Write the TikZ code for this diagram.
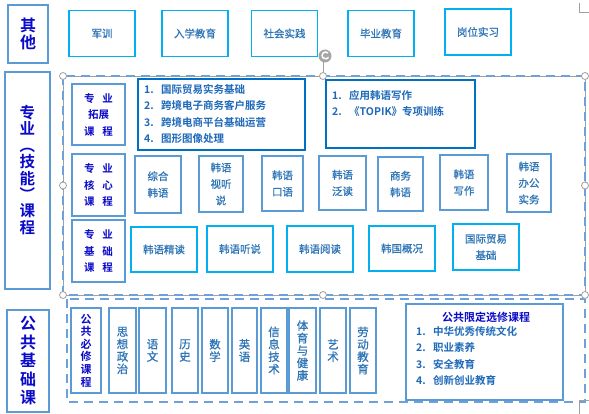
\documentclass[tikz,border=0pt]{standalone}
\usepackage{fontspec}
\setmainfont{Noto Sans CJK SC}[BoldFont={Noto Sans CJK SC Bold}]
\newfontfamily\itemfont{Noto Sans CJK SC}[FakeBold=0.9]
\usetikzlibrary{positioning}

\definecolor{navy}{RGB}{10,10,200}
\definecolor{itemblue}{RGB}{46,117,182}
\definecolor{listblue}{RGB}{30,105,185}
\definecolor{frameblue}{RGB}{91,155,213}
\definecolor{dashblue}{RGB}{110,160,218}
\definecolor{cyanline}{RGB}{0,176,240}
\definecolor{deepblue}{RGB}{0,112,192}
\definecolor{handlegray}{RGB}{160,160,160}

\newcommand{\numitem}[2]{\makebox[17pt][l]{#1.}#2}

\begin{document}
\begin{tikzpicture}[
  x=1pt, y=-1pt,
  catbox/.style={draw=frameblue, line width=2.6pt, inner sep=0pt, align=center,
    text=navy, font=\fontsize{16}{17}\selectfont\bfseries},
  subbox/.style={draw=frameblue, line width=1.6pt, inner sep=0pt, align=center,
    minimum width=53pt, minimum height=62pt,
    text=navy, font=\fontsize{10.5}{16.5}\selectfont\bfseries},
  cyanbox/.style={draw=cyanline, line width=1.6pt, inner sep=0pt, align=center,
    minimum width=66pt, minimum height=46pt,
    text=itemblue, font=\fontsize{10.5}{16.5}\itemfont},
  corebox/.style={draw=frameblue, line width=1.6pt, inner sep=0pt, align=center,
    minimum height=56pt,
    text=itemblue, font=\fontsize{10.5}{16.5}\itemfont},
  colbox/.style={draw=frameblue, line width=1.6pt, inner sep=0pt, align=center,
    minimum height=85pt,
    text=itemblue, font=\fontsize{11.5}{12.4}\itemfont},
  listbox/.style={draw=deepblue, line width=2pt, inner sep=0pt},
  listtext/.style={inner sep=0pt, align=left, text=listblue,
    font=\fontsize{10.5}{16.5}\selectfont\bfseries},
  dashframe/.style={draw=dashblue, line width=2.4pt, dash pattern=on 9pt off 6pt},
  handle/.style={circle, draw=handlegray, fill=white, line width=0.8pt,
    minimum size=7pt, inner sep=0pt}
]
\useasboundingbox (0,0) rectangle (589,414);

% Category boxes (left column)
\node[catbox, minimum width=40pt, minimum height=58pt] (other) at (28,34) {其\\他};
\node[catbox, minimum width=45pt, minimum height=217pt] (major) at (27.5,180.5) {};
\node[text=navy, font=\fontsize{15.5}{16.4}\selectfont\bfseries, align=center] (majortxt)
  at (27.5,170) {专\\业\\︵\\技\\能\\︶\\课\\程};
\node[catbox, minimum width=42pt, minimum height=102pt,
  font=\fontsize{16}{18.5}\selectfont\bfseries] (public) at (28,361) {公\\共\\基\\础\\课};

% --- other: top row ---
\node[cyanbox] (jx) at (102,33.5)   {军训};
\node[cyanbox] (rx) at (195,33.5)   {入学教育};
\node[cyanbox] (sh) at (284.5,33.5) {社会实践};
\node[cyanbox] (by) at (381,33.5)   {毕业教育};
\node[cyanbox] (gw) at (478,32)     {岗位实习};

% --- selection frame of the major block ---
\draw[handlegray, line width=0.6pt] (63,76) rectangle (585,295);
\draw[handlegray, line width=0.8pt] (323,72) -- (323,62);
\draw[dashframe] (63,76) rectangle (585,295);
\draw[dashframe] (67,299) rectangle (585,402);
\fill[gray!70] (325,56) circle (6.5pt);
\draw[white, line width=1.4pt] (328,53) arc (45:330:3.5pt);
\foreach \hx/\hy in {63/76, 323/76, 585/76, 63/185.5, 585/185.5, 63/295, 323/295, 585/295}
  \node[handle] at (\hx,\hy) {};

% corner marks
\draw[handlegray, line width=0.5pt] (579,3) -- (579,12) -- (589,12);
\draw[handlegray, line width=0.5pt] (579,414) -- (579,400) -- (589,400);

% --- major: extension courses ---
\node[subbox, minimum height=61pt] (ext) at (98.5,114.5)
  {专\hspace{8pt}业\\拓展\\课\hspace{8pt}程};
\node[listbox, minimum width=167pt, minimum height=71pt] (ext1) at (221.5,114.5) {};
\node[listtext, anchor=north west] (ext1t) at (144,84)
  {\numitem{1}{国际贸易实务基础}\\\numitem{2}{跨境电子商务客户服务}\\
   \numitem{3}{跨境电商平台基础运营}\\\numitem{4}{图形图像处理}};
\node[listbox, minimum width=149pt, minimum height=68pt] (ext2) at (400.5,114) {};
\node[listtext, anchor=north west] (ext2t) at (332,90)
  {\numitem{1}{应用韩语写作}\\\numitem{2}{《TOPIK》专项训练}};

% --- major: core courses ---
\node[subbox] (core) at (98.5,185) {专\hspace{8pt}业\\核\hspace{8pt}心\\课\hspace{8pt}程};
\node[corebox, minimum width=46pt, minimum height=57pt] (c1) at (158,184.5) {综合\\韩语};
\node[corebox, minimum width=44pt] (c2) at (221,184)   {韩语\\视听\\说};
\node[corebox, minimum width=41pt, minimum height=55pt] (c3) at (282.5,183.5) {韩语\\口语};
\node[corebox, minimum width=47pt, minimum height=54pt] (c4) at (342.5,183) {韩语\\泛读};
\node[corebox, minimum width=45pt, minimum height=54pt] (c5) at (400.5,184) {商务\\韩语};
\node[corebox, minimum width=48pt, minimum height=55pt] (c6) at (464,182.5) {韩语\\写作};
\node[corebox, minimum width=44pt, minimum height=58pt] (c7) at (529,183) {韩语\\办公\\实务};

% --- major: basic courses ---
\node[subbox] (basic) at (98.5,251) {专\hspace{8pt}业\\基\hspace{8pt}础\\课\hspace{8pt}程};
\node[cyanbox, minimum height=45pt] (b1) at (164,249.5) {韩语精读};
\node[cyanbox] (b2) at (240,249)   {韩语听说};
\node[cyanbox] (b3) at (320,249)   {韩语阅读};
\node[cyanbox, minimum height=45pt] (b4) at (402,248.5) {韩国概况};
\node[cyanbox] (b5) at (486,247)   {国际贸易\\基础};

% --- public: compulsory courses ---
\node[colbox, minimum width=30pt, text=navy,
  font=\fontsize{11}{12.6}\selectfont\bfseries] (req) at (86,350.5)
  {公\\共\\必\\修\\课\\程};
\node[colbox, minimum width=27pt] (p1)  at (122.5,350.5) {思\\想\\政\\治};
\node[colbox, minimum width=27pt] (p2)  at (152.5,350.5) {语\\文};
\node[colbox, minimum width=26pt] (p3)  at (185,350.5)   {历\\史};
\node[colbox, minimum width=26pt] (p4)  at (215,350.5)   {数\\学};
\node[colbox, minimum width=25pt] (p5)  at (244.5,350.5) {英\\语};
\node[colbox, minimum width=26pt] (p6)  at (274,350.5)   {信\\息\\技\\术};
\node[colbox, minimum width=27pt] (p7)  at (302.5,350.5) {体\\育\\与\\健\\康};
\node[colbox, minimum width=26pt] (p8)  at (333,350.5)   {艺\\术};
\node[colbox, minimum width=26pt] (p9)  at (363,350.5)   {劳\\动\\教\\育};

% --- public: limited electives ---
\node[draw=frameblue, line width=1.6pt, minimum width=157pt, minimum height=96pt]
  (elec) at (484.5,352) {};
\node[text=navy, font=\fontsize{11}{12}\selectfont\bfseries] (electitle)
  at (486,317) {公共限定选修课程};
\node[listtext, anchor=north west] (elect) at (416,326)
  {\numitem{1}{中华优秀传统文化}\\\numitem{2}{职业素养}\\
   \numitem{3}{安全教育}\\\numitem{4}{创新创业教育}};

\end{tikzpicture}
\end{document}
